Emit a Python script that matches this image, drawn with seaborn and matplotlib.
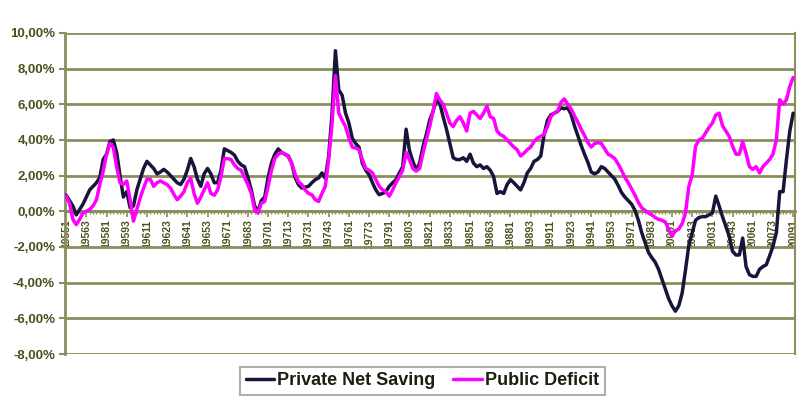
import numpy as np
import pandas as pd
import seaborn as sns
import matplotlib
matplotlib.use("Agg")
import matplotlib.pyplot as plt
from matplotlib.ticker import FixedLocator, MultipleLocator

# quarterly values, 1955Q1 .. 2009Q1 (percent)
private_net_saving = [
    0.9, 0.6, 0.3, -0.2,      # 1955
    0.1, 0.4, 0.8, 1.2,       # 1956
    1.4, 1.6, 1.9, 2.9,       # 1957
    3.2, 3.9, 4.0, 3.3,       # 1958
    2.0, 0.8, 1.1, 0.2,       # 1959
    0.3, 1.2, 1.8, 2.4,       # 1960
    2.8, 2.6, 2.4, 2.1,       # 1961
    2.2, 2.35, 2.2, 2.0,      # 1962
    1.8, 1.6, 1.5, 1.8,       # 1963
    2.3, 2.96, 2.5, 1.8,      # 1964
    1.4, 2.1, 2.4, 2.1,       # 1965
    1.6, 1.6, 2.3, 3.5,       # 1966
    3.4, 3.3, 3.15, 2.8,      # 1967
    2.6, 2.5, 1.9, 1.2,       # 1968
    0.3, 0.0, 0.6, 0.8,       # 1969
    1.9, 2.7, 3.2, 3.5,       # 1970
    3.3, 3.2, 3.1, 2.7,       # 1971
    1.9, 1.5, 1.3, 1.35,      # 1972
    1.4, 1.6, 1.77, 1.87,     # 1973
    2.15, 1.85, 3.1, 5.5,     # 1974
    9.0, 6.8, 6.5, 5.5,       # 1975
    4.95, 4.1, 3.8, 3.6,      # 1976
    2.7, 2.3, 2.05, 1.6,      # 1977
    1.2, 0.93, 1.0, 1.1,      # 1978
    1.4, 1.6, 1.77, 2.15,     # 1979
    2.5, 4.6, 3.4, 2.8,       # 1980
    2.3, 2.7, 3.6, 4.3,       # 1981
    5.1, 5.6, 6.25, 6.05,     # 1982
    5.3, 4.6, 3.8, 3.0,       # 1983
    2.9, 2.9, 3.0, 2.8,       # 1984
    3.2, 2.7, 2.5, 2.6,       # 1985
    2.4, 2.5, 2.3, 1.95,      # 1986
    1.0, 1.1, 1.0, 1.5,       # 1987
    1.77, 1.6, 1.4, 1.2,      # 1988
    1.6, 2.15, 2.4, 2.8,      # 1989
    2.9, 3.1, 4.3, 5.1,       # 1990
    5.4, 5.5, 5.6, 5.8,       # 1991
    5.75, 5.8, 5.45, 4.8,     # 1992
    4.25, 3.7, 3.2, 2.75,     # 1993
    2.2, 2.1, 2.2, 2.5,       # 1994
    2.4, 2.2, 2.0, 1.8,       # 1995
    1.45, 1.05, 0.8, 0.6,     # 1996
    0.4, 0.05, -0.5, -1.2,    # 1997
    -1.75, -2.3, -2.6, -2.85,  # 1998
    -3.25, -3.8, -4.35, -4.9,  # 1999
    -5.3, -5.6, -5.3, -4.6,   # 2000
    -3.3, -1.9, -1.2, -0.5,   # 2001
    -0.35, -0.3, -0.3, -0.2,  # 2002
    -0.1, 0.85, 0.3, -0.3,    # 2003
    -0.85, -1.4, -2.25, -2.45,  # 2004
    -2.45, -1.5, -3.1, -3.55,  # 2005
    -3.65, -3.65, -3.25, -3.1,  # 2006
    -3.0, -2.5, -1.95, -1.2,  # 2007
    1.1, 1.1, 2.9, 4.5,       # 2008
    5.5,                      # 2009
]

public_deficit = [
    0.85, 0.45, -0.45, -0.75,  # 1955
    -0.45, -0.1, 0.0, 0.1,    # 1956
    0.3, 0.65, 1.5, 2.25,     # 1957
    3.2, 3.8, 3.6, 2.5,       # 1958
    1.6, 1.5, 1.7, 0.65,      # 1959
    -0.55, 0.1, 0.75, 1.3,    # 1960
    1.8, 1.8, 1.4, 1.6,       # 1961
    1.7, 1.6, 1.5, 1.3,       # 1962
    0.95, 0.65, 0.85, 1.1,    # 1963
    1.6, 1.85, 1.0, 0.45,     # 1964
    0.8, 1.2, 1.6, 1.0,       # 1965
    0.9, 1.2, 1.95, 2.96,     # 1966
    2.95, 2.9, 2.6, 2.4,      # 1967
    2.3, 1.9, 1.5, 1.0,       # 1968
    0.1, -0.1, 0.45, 0.55,    # 1969
    1.4, 2.3, 2.96, 3.2,      # 1970
    3.3, 3.2, 3.05, 2.7,      # 1971
    2.1, 1.65, 1.5, 1.2,      # 1972
    1.0, 0.93, 0.65, 0.55,    # 1973
    1.0, 1.4, 2.9, 4.95,      # 1974
    7.6, 5.5, 5.1, 4.75,      # 1975
    4.1, 3.6, 3.55, 3.45,     # 1976
    2.9, 2.4, 2.3, 2.15,      # 1977
    1.77, 1.4, 1.2, 1.1,      # 1978
    0.85, 1.2, 1.6, 1.95,     # 1979
    2.3, 3.3, 2.9, 2.4,       # 1980
    2.25, 2.4, 3.25, 4.0,     # 1981
    4.75, 5.6, 6.6, 6.25,     # 1982
    6.0, 5.5, 4.95, 4.75,     # 1983
    5.1, 5.3, 4.95, 4.5,      # 1984
    5.5, 5.6, 5.4, 5.2,       # 1985
    5.5, 5.9, 5.3, 5.2,       # 1986
    4.5, 4.3, 4.2, 4.0,       # 1987
    3.8, 3.6, 3.45, 3.1,      # 1988
    3.25, 3.45, 3.6, 3.9,     # 1989
    4.1, 4.2, 4.3, 4.75,      # 1990
    5.3, 5.5, 5.6, 6.1,       # 1991
    6.3, 6.0, 5.75, 5.35,     # 1992
    5.0, 4.6, 4.25, 3.85,     # 1993
    3.6, 3.8, 3.85, 3.8,      # 1994
    3.5, 3.2, 3.1, 2.95,      # 1995
    2.65, 2.3, 1.9, 1.6,      # 1996
    1.25, 0.9, 0.5, 0.2,      # 1997
    0.05, -0.1, -0.2, -0.35,  # 1998
    -0.45, -0.5, -0.6, -1.0,  # 1999
    -1.4, -1.1, -1.0, -0.7,   # 2000
    -0.1, 1.4, 2.05, 3.65,    # 2001
    4.0, 4.1, 4.4, 4.7,       # 2002
    4.95, 5.4, 5.5, 4.8,      # 2003
    4.5, 4.2, 3.65, 3.2,      # 2004
    3.2, 3.9, 3.25, 2.5,      # 2005
    2.35, 2.5, 2.15, 2.5,     # 2006
    2.7, 2.9, 3.2, 4.0,       # 2007
    6.25, 6.0, 6.25, 7.0,     # 2008
    7.5,                      # 2009
]

first_year = 1955
quarters = np.arange(len(private_net_saving))
tick_pos = quarters[::6]
tick_labels = [f"{first_year + q // 4}{q % 4 + 1}" for q in tick_pos]
y_ticks = list(range(-8, 11, 2))

series_names = ["Private Net Saving", "Public Deficit"]
colors = {"Private Net Saving": "#16163a", "Public Deficit": "#ff00ff"}

df = pd.DataFrame({
    "q": np.concatenate([quarters, quarters]),
    "value": private_net_saving + public_deficit,
    "series": [series_names[0]] * len(quarters) + [series_names[1]] * len(quarters),
})

sns.set_theme(style="white")
plt.rcParams["font.family"] = ["Liberation Sans", "DejaVu Sans"]

olive = "#8c8c5c"
label_col = "#4f4f1c"

fig = plt.figure(figsize=(8, 3.96), dpi=100)
ax = fig.add_axes([0.081, 0.106, 0.913, 0.811])

for y in y_ticks:
    ax.axhline(y, color=olive, lw=2.0, zorder=1)

sns.lineplot(data=df, x="q", y="value", hue="series", palette=colors,
             hue_order=series_names, lw=2.5, ax=ax, legend=False, zorder=3)

ax.set_xlim(-0.4, 216.6)
ax.set_ylim(-8, 10)
ax.set_xlabel("")
ax.set_ylabel("")

# y axis
ax.set_yticks(y_ticks)
ax.set_yticklabels([f"{v:.2f}%".replace(".", ",") for v in y_ticks],
                   fontsize=9.5, fontweight="bold", color=label_col)
ax.tick_params(axis="y", length=4, width=1.5, color=olive, pad=3, left=True)

# x axis sits on zero
ax.spines["bottom"].set_position(("data", 0))
ax.spines["bottom"].set_color(olive)
ax.spines["bottom"].set_linewidth(2)
ax.spines["left"].set_color(olive)
ax.spines["left"].set_linewidth(2)
ax.spines["right"].set_color(olive)
ax.spines["right"].set_linewidth(1.5)
ax.spines["top"].set_visible(False)
ax.xaxis.set_major_locator(FixedLocator(tick_pos))
ax.xaxis.set_minor_locator(MultipleLocator(1))
ax.set_xticklabels(tick_labels, rotation=90, fontsize=7.5, fontweight="bold",
                   color=label_col)
ax.tick_params(axis="x", which="major", length=4, width=1.2, color=olive,
               pad=2, bottom=True)
ax.tick_params(axis="x", which="minor", length=2.5, width=1, color=olive,
               bottom=True)

handles = [plt.Line2D([], [], color=colors[n], lw=2.5) for n in series_names]
leg = fig.legend(handles, series_names, loc="upper center",
                 bbox_to_anchor=(0.528, 1 - 367 / 396), ncol=2, frameon=True,
                 fancybox=False, fontsize=13, handlelength=1.6,
                 handletextpad=0.15, columnspacing=1.0, borderpad=0.3,
                 borderaxespad=0, prop={"size": 13, "weight": "bold"})
leg.get_frame().set_edgecolor("#9a9a9a")
leg.get_frame().set_linewidth(1.5)
for t in leg.get_texts():
    t.set_color("#1e1e10")

fig.savefig("out.png", dpi=100)
